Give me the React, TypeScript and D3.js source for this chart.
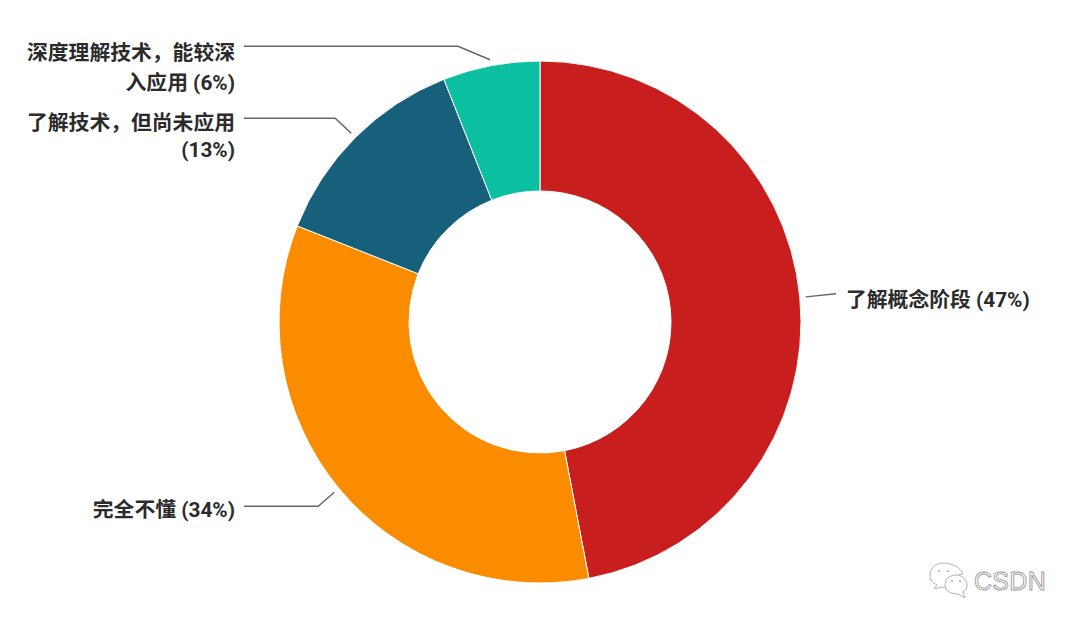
import React from "react";
import * as d3 from "d3";

const categories = ["了解概念阶段", "完全不懂", "了解技术，但尚未应用", "深度理解技术，能较深入应用"];
const values = [47, 34, 13, 6];
const colors = ["#c81e1e", "#fb8c00", "#17607c", "#0bbfa1"];
const labelLines = [
  ["了解概念阶段 (47%)"],
  ["完全不懂 (34%)"],
  ["了解技术，但尚未应用", "(13%)"],
  ["深度理解技术，能较深", "入应用 (6%)"],
];

const W = 1080, H = 627, CX = 540, CY = 322, R = 261, R0 = 131;
const FONT = "Roboto, 'Noto Sans CJK SC', sans-serif";
const elbow: [number, number][] = [[30, -3], [-16, 14], [-16, -15], [-32, -13.5]];
const textEnd = [846, 235, 235, 235];
const lineEnd = [836, 244, 244, 244];
const textY = [307, 517, 130, 59.5];
const lineGap = [0, 0, 26.5, 30];

export default function App() {
  const pie = d3.pie<number>().sort(null).value((d) => d);
  const arcs = pie(values);
  const arc = d3.arc<d3.PieArcDatum<number>>().innerRadius(R0).outerRadius(R);
  const leadArc = d3.arc<d3.PieArcDatum<number>>().innerRadius(267).outerRadius(267);
  const line = d3.line();
  return (
    <svg width={W} height={H} style={{ position: "absolute", left: 0, top: 0, background: "#fff" }} fontFamily={FONT}>
      <g transform={`translate(${CX},${CY})`}>
        {arcs.map((a, i) => (
          <path key={categories[i]} d={arc(a)!} fill={colors[i]} stroke="#fff" strokeWidth={1} />
        ))}
      </g>
      {arcs.map((a, i) => {
        const [x, y] = leadArc.centroid(a);
        const p0: [number, number] = [CX + x, CY + y];
        const p1: [number, number] = [p0[0] + elbow[i][0], p0[1] + elbow[i][1]];
        const p2: [number, number] = [lineEnd[i], p1[1]];
        return <path key={i} d={line([p0, p1, p2])!} fill="none" stroke="#666" strokeWidth={1.5} />;
      })}
      {labelLines.map((ls, i) => (
        <text
          key={i}
          x={textEnd[i]}
          y={textY[i]}
          textAnchor={i === 0 ? "start" : "end"}
          fontSize={20.8}
          fontWeight={700}
          fill="#2b2b2b"
        >
          {ls.map((l, j) => (
            <tspan key={j} x={textEnd[i]} dy={j === 0 ? 0 : lineGap[i]}>
              {l}
            </tspan>
          ))}
        </text>
      ))}
      <g fill="#fff" stroke="#b4b4b4" strokeWidth={1}>
        <path d="M943 563 C934 563 930 570 930 575 C930 580 933 583 937 585 L934 589 L941 587 C944 588 946 588 948 587 C948 580 954 575 963 574 C961 568 953 563 943 563Z" />
        <path d="M956 575 C949 575 945 580 945 585 C945 591 951 594 958 594 L965 598 L963 592 C966 590 967 588 967 585 C967 580 963 575 956 575Z" />
      </g>
      <g fill="#aaa">
        <circle cx={939} cy={571} r={1} />
        <circle cx={948} cy={571} r={1} />
        <circle cx={952} cy={581} r={1} />
        <circle cx={960} cy={581} r={1} />
      </g>
      <text x={974} y={590} fontSize={25} fill="#fff" stroke="#999" strokeWidth={0.9} letterSpacing={0.3} fontFamily="'Liberation Sans', sans-serif">CSDN</text>
    </svg>
  );
}
